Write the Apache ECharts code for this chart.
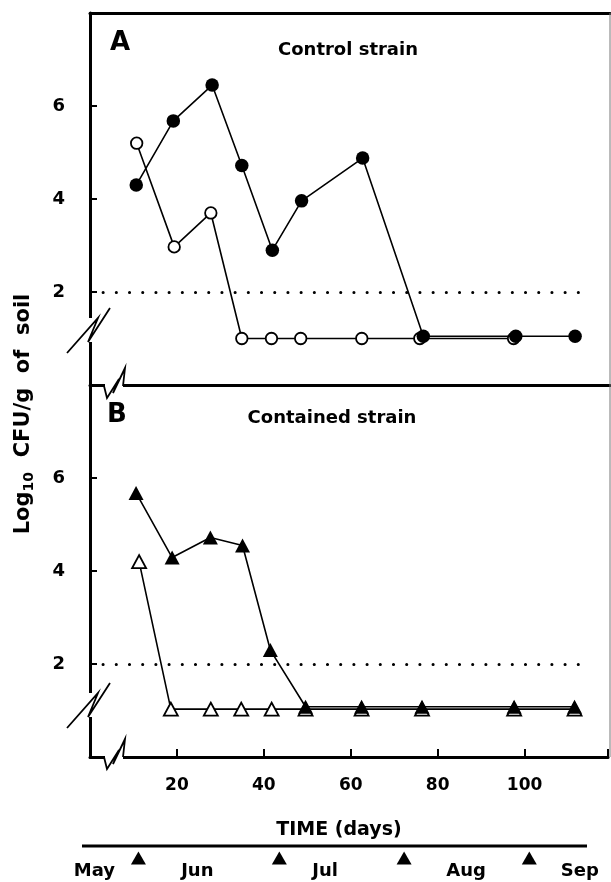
<!DOCTYPE html>
<html><head><meta charset="utf-8">
<script src="https://cdn.jsdelivr.net/npm/echarts/dist/echarts.min.js"></script>
<style>html,body{margin:0;padding:0;background:#fff}#c{width:611px;height:882px}</style>
</head><body><div id="c"></div>
<script>
// ---- data ----
const controlFilledDays = [10.6, 19.1, 28.0, 34.8, 41.8, 48.5, 62.5, 76.4, 97.6, 111.2];
const controlFilledLog  = [4.30, 5.68, 6.45, 4.72, 2.90, 3.96, 4.88, 1.05, 1.05, 1.05];
const controlOpenDays   = [10.7, 19.3, 27.7, 34.8, 41.6, 48.3, 62.3, 75.6, 97.1];
const controlOpenLog    = [5.20, 2.97, 3.70, 1.00, 1.00, 1.00, 1.00, 1.00, 1.00];
const containedFilledDays = [10.6, 18.9, 27.7, 35.1, 41.5, 49.6, 62.5, 76.4, 97.6, 111.5];
const containedFilledLog  = [5.68, 4.29, 4.72, 4.55, 2.30, 1.08, 1.08, 1.08, 1.08, 1.08];
const containedOpenDays   = [11.3, 18.6, 27.8, 34.8, 41.8, 49.6, 62.5, 76.4, 97.6, 111.5];
const containedOpenLog    = [4.20, 1.03, 1.03, 1.03, 1.03, 1.03, 1.03, 1.03, 1.03, 1.03];
const detectionLimit = 2;
const detectionFrom = 3.0, detectionTo = 114.3;
const xTickLabels = [20, 40, 60, 80, 100];
const yTickLabels = [2, 4, 6];
const monthMarkerDays = [11.1, 43.4, 72.0, 100.7];
const monthNames = ['May', 'Jun', 'Jul', 'Aug', 'Sep'];
const monthLabelDays = [1.0, 24.6, 53.9, 86.2, 112.3];

// ---- chart ----
const FONT = 'DejaVu Sans';
const zip = (a, b) => a.map((v, i) => [v, b[i]]);
const XMAX = 119.2;
const chart = echarts.init(document.getElementById('c'), null, {renderer: 'canvas'});

const axisLineStyle = {show: true, lineStyle: {color: '#000', width: 3}};
function yAxisCfg(gi) {
  return {
    type: 'value', gridIndex: gi, min: 0, max: 8, interval: 2,
    axisLine: axisLineStyle,
    axisTick: {show: true, inside: true, length: 7, lineStyle: {color: '#000', width: 2}},
    axisLabel: {
      margin: 25, color: '#000', fontFamily: FONT, fontWeight: 'bold', fontSize: 18,
      formatter: v => yTickLabels.includes(v) ? String(v) : ''
    },
    splitLine: {show: false}
  };
}
const dotted = {
  silent: true, symbol: ['none', 'none'], label: {show: false},
  lineStyle: {color: '#000', width: 3, type: [0.1, 13.1], cap: 'round'},
  data: [[{coord: [detectionFrom, detectionLimit]}, {coord: [detectionTo, detectionLimit]}]]
};
const lineBase = {type: 'line', lineStyle: {color: '#000', width: 1.6}, emphasis: {disabled: true}};

const option = {
  animation: false,
  backgroundColor: '#fff',
  grid: [
    {left: 90, right: 1, top: 13, height: 372},
    {left: 90, right: 1, top: 385, height: 372},
    {left: 90, right: 1, top: 840, height: 40}
  ],
  xAxis: [
    {type: 'value', gridIndex: 0, position: 'bottom', min: 0, max: XMAX, axisLine: axisLineStyle,
     axisTick: {show: false}, axisLabel: {show: false}, splitLine: {show: false}},
    {type: 'value', gridIndex: 0, position: 'top', min: 0, max: XMAX, axisLine: axisLineStyle,
     axisTick: {show: false}, axisLabel: {show: false}, splitLine: {show: false}},
    {type: 'value', gridIndex: 1, position: 'bottom', min: 0, max: XMAX, interval: 20,
     axisLine: axisLineStyle,
     axisTick: {show: true, inside: true, length: 8, lineStyle: {color: '#000', width: 2}},
     axisLabel: {margin: 20, color: '#000', fontFamily: FONT, fontWeight: 'bold', fontSize: 17,
       formatter: v => xTickLabels.includes(v) ? String(v) : ''},
     splitLine: {show: false}},
    {type: 'value', gridIndex: 2, min: 0, max: XMAX, show: false}
  ],
  yAxis: [yAxisCfg(0), yAxisCfg(1), {type: 'value', gridIndex: 2, min: 0, max: 1, show: false}],
  series: [
    Object.assign({}, lineBase, {
      name: 'control open', xAxisIndex: 0, yAxisIndex: 0, data: zip(controlOpenDays, controlOpenLog),
      symbol: 'circle', symbolSize: 11.5, z: 3,
      itemStyle: {color: '#fff', borderColor: '#000', borderWidth: 1.8},
      markLine: dotted
    }),
    Object.assign({}, lineBase, {
      name: 'control filled', xAxisIndex: 0, yAxisIndex: 0, data: zip(controlFilledDays, controlFilledLog),
      symbol: 'circle', symbolSize: 13.5, z: 4,
      itemStyle: {color: '#000', borderColor: '#000', borderWidth: 0}
    }),
    Object.assign({}, lineBase, {
      name: 'contained open', xAxisIndex: 2, yAxisIndex: 1, data: zip(containedOpenDays, containedOpenLog),
      symbol: 'triangle', symbolSize: [14, 13], z: 3,
      itemStyle: {color: '#fff', borderColor: '#000', borderWidth: 1.8},
      markLine: dotted
    }),
    Object.assign({}, lineBase, {
      name: 'contained filled', xAxisIndex: 2, yAxisIndex: 1, data: zip(containedFilledDays, containedFilledLog),
      symbol: 'triangle', symbolSize: [15, 14], z: 4,
      itemStyle: {color: '#000', borderColor: '#000', borderWidth: 0}
    }),
    {
      type: 'scatter', name: 'month markers', xAxisIndex: 3, yAxisIndex: 2,
      data: monthMarkerDays.map(d => [d, 0.55]), symbol: 'triangle', symbolSize: [15, 13],
      itemStyle: {color: '#000', opacity: 1}, silent: true
    },
    {
      type: 'scatter', name: 'months', xAxisIndex: 3, yAxisIndex: 2,
      data: monthLabelDays.map((d, i) => ({value: [d, 0.22], name: monthNames[i]})),
      symbolSize: 0, silent: true, itemStyle: {opacity: 1, color: '#000'},
      label: {show: true, position: 'inside', formatter: p => p.name, color: '#000', textBorderWidth: 0,
        fontFamily: FONT, fontWeight: 'bold', fontSize: 18}
    }
  ],
  graphic: [
    // right frame edge
    {type: 'line', z: 50, shape: {x1: 610, y1: 13, x2: 610, y2: 757}, style: {stroke: '#777', lineWidth: 1}},
    // axis breaks (white gaps)
    {type: 'rect', z: 60, shape: {x: 85, y: 318, width: 10, height: 24}, style: {fill: '#fff'}},
    {type: 'rect', z: 60, shape: {x: 105, y: 382, width: 18, height: 8}, style: {fill: '#fff'}},
    {type: 'rect', z: 60, shape: {x: 85, y: 693, width: 10, height: 24}, style: {fill: '#fff'}},
    {type: 'rect', z: 60, shape: {x: 105, y: 752, width: 18, height: 9}, style: {fill: '#fff'}},
    // break bolts
    {type: 'polyline', z: 61, shape: {points: [[67, 353], [98, 318], [88, 342], [110, 308]]}, style: {stroke: '#000', lineWidth: 1.8, fill: null}},
    {type: 'polyline', z: 61, shape: {points: [[104, 386], [107, 398], [119, 379], [113, 393], [125, 368], [123, 386]]}, style: {stroke: '#000', lineWidth: 1.8, fill: null}},
    {type: 'polyline', z: 61, shape: {points: [[67, 728], [98, 693], [88, 717], [110, 683]]}, style: {stroke: '#000', lineWidth: 1.8, fill: null}},
    {type: 'polyline', z: 61, shape: {points: [[104, 757], [107, 769], [119, 750], [113, 764], [125, 739], [123, 757]]}, style: {stroke: '#000', lineWidth: 1.8, fill: null}},
    // panel letters and titles
    {type: 'text', z: 70, x: 120, y: 43, style: {text: 'A', fontFamily: FONT, fontWeight: 'bold', fontSize: 26, fill: '#000', align: 'center', verticalAlign: 'middle'}},
    {type: 'text', z: 70, x: 348, y: 50, style: {text: 'Control strain', fontFamily: FONT, fontWeight: 'bold', fontSize: 18, fill: '#000', align: 'center', verticalAlign: 'middle'}},
    {type: 'text', z: 70, x: 117, y: 415, style: {text: 'B', fontFamily: FONT, fontWeight: 'bold', fontSize: 26, fill: '#000', align: 'center', verticalAlign: 'middle'}},
    {type: 'text', z: 70, x: 332, y: 418, style: {text: 'Contained strain', fontFamily: FONT, fontWeight: 'bold', fontSize: 18, fill: '#000', align: 'center', verticalAlign: 'middle'}},
    // y axis title
    {type: 'text', z: 70, x: 24, y: 414, rotation: Math.PI / 2,
     style: {text: '{a|Log}{s|10}{a|  CFU/g  of  soil}', align: 'center', verticalAlign: 'middle', fill: '#000',
       rich: {a: {fontFamily: FONT, fontWeight: 'bold', fontSize: 21, fill: '#000'},
              s: {fontFamily: FONT, fontWeight: 'bold', fontSize: 14, fill: '#000', padding: [11, 0, 0, 0]}}}},
    // x axis title and time bar
    {type: 'text', z: 70, x: 339, y: 830, style: {text: 'TIME (days)', fontFamily: FONT, fontWeight: 'bold', fontSize: 19, fill: '#000', align: 'center', verticalAlign: 'middle'}},
    {type: 'line', z: 50, shape: {x1: 82, y1: 846, x2: 587, y2: 846}, style: {stroke: '#000', lineWidth: 3}}
  ]
};
chart.setOption(option);
</script>
</body></html>
